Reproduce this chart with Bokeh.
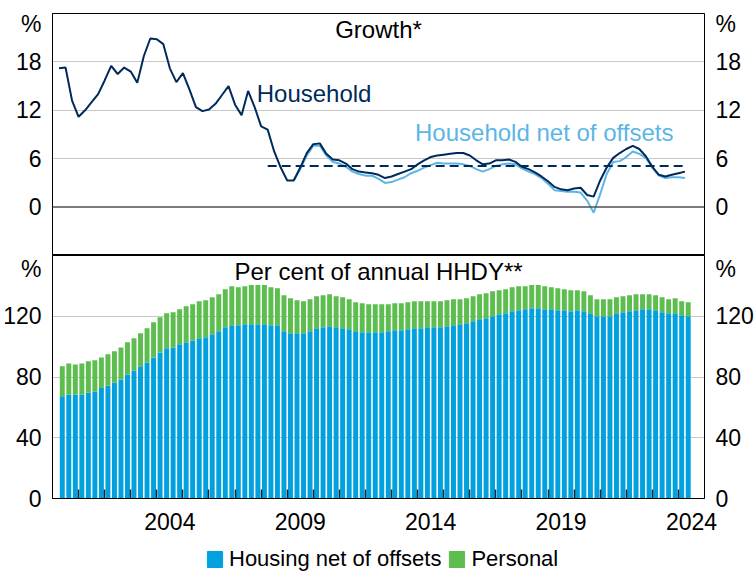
from bokeh.plotting import figure
from bokeh.models import (Range1d, LinearAxis, FixedTicker, Span, Label,
                          Legend, LegendItem, ColumnDataSource)
from bokeh.layouts import column
from bokeh.embed import file_html
from bokeh.resources import INLINE

# ---------------- data ----------------
# Growth panel: quarterly observations, first point Mar-2000, last Jun-2024
growth_start = 2000.25
household_growth = [
    17.2, 17.3, 13.2, 11.2, 12.0, 13.0, 14.0, 15.7, 17.5, 16.5,
    17.3, 16.8, 15.4, 18.7, 20.9, 20.8, 20.2, 17.2, 15.5, 16.6,
    14.6, 12.4, 11.9, 12.1, 12.8, 13.9, 15.0, 12.7, 11.4, 14.4,
    12.4, 10.0, 9.6, 6.9, 4.9, 3.3, 3.3, 4.9, 6.7, 7.8,
    7.9, 6.6, 5.9, 5.8, 5.4, 4.7, 4.4, 4.3, 4.2, 4.0,
    3.6, 3.8, 4.1, 4.4, 4.7, 5.3, 5.8, 6.2, 6.4, 6.5,
    6.6, 6.7, 6.7, 6.4, 5.8, 5.3, 5.4, 5.8, 5.8, 5.9,
    5.6, 5.0, 4.7, 4.3, 3.8, 3.2, 2.5, 2.2, 2.1, 2.3,
    2.4, 1.5, 1.3, 3.3, 4.9, 6.1, 6.7, 7.2, 7.6, 7.2,
    6.3, 5.0, 4.0, 3.8, 4.0, 4.2, 4.4,
]
# Household net of offsets starts in Mar-2009
net_start = 2009.25
household_net_growth = [
    3.3, 4.7, 6.4, 7.6, 7.6, 6.4, 5.6, 5.4, 5.0, 4.4,
    4.1, 3.9, 3.9, 3.5, 3.0, 3.1, 3.4, 3.7, 4.2, 4.5,
    4.9, 5.2, 5.5, 5.4, 5.4, 5.4, 5.3, 5.1, 4.7, 4.4,
    4.7, 5.1, 5.3, 5.4, 5.3, 4.8, 4.4, 4.1, 3.6, 2.9,
    2.1, 2.0, 1.9, 1.9, 1.8, 0.8, -0.7, 1.6, 4.1, 5.6,
    5.7, 6.2, 6.9, 6.6, 6.1, 4.9, 3.9, 3.6, 3.7, 3.7, 3.6,
]
avg_start, avg_end, avg_value = 2008.25, 2024.25, 5.1

# Per cent of annual HHDY: quarterly bars, June quarter 2000 to June quarter 2024
bar_start = 2000.375
housing = [
    67.4, 68.5, 68.5, 68.5, 69.8, 70.5, 72.7, 74.4, 76.4, 78.4,
    81.7, 84.3, 87.0, 89.6, 92.9, 96.2, 98.9, 99.5, 101.5, 102.8,
    104.1, 105.5, 106.1, 108.1, 110.1, 112.7, 114.0, 114.0, 114.7, 114.7,
    114.7, 114.7, 114.0, 114.0, 110.1, 108.8, 108.8, 108.8, 110.1, 112.1,
    112.7, 113.4, 112.7, 112.1, 111.4, 110.1, 109.4, 109.4, 109.4, 109.4,
    110.1, 110.7, 110.7, 111.4, 112.1, 112.1, 112.7, 112.7, 112.7, 113.4,
    114.0, 114.7, 115.4, 116.7, 118.0, 118.7, 120.0, 121.3, 122.0, 123.3,
    124.0, 124.6, 125.3, 125.3, 124.6, 124.6, 124.0, 124.0, 123.3, 124.0,
    123.3, 122.0, 120.0, 120.0, 120.0, 122.0, 122.6, 123.3, 124.0, 124.6,
    124.6, 124.0, 122.6, 122.0, 122.0, 120.7, 120.0,
]
personal = [
    19.6, 20.4, 19.8, 20.4, 20.5, 20.6, 20.2, 20.5, 20.5, 21.1,
    21.1, 21.2, 21.8, 22.5, 23.1, 23.1, 23.1, 23.1, 23.1, 23.8,
    23.8, 24.4, 24.5, 24.4, 24.4, 25.1, 25.8, 25.1, 25.1, 25.8,
    25.8, 25.8, 25.1, 24.5, 23.8, 23.1, 21.8, 21.1, 21.1, 21.1,
    21.2, 21.1, 20.5, 20.4, 19.8, 19.1, 19.2, 18.5, 18.5, 18.5,
    17.8, 17.9, 17.9, 17.8, 17.8, 17.8, 17.2, 17.2, 17.2, 17.2,
    17.2, 16.5, 16.5, 16.5, 16.5, 16.5, 16.5, 15.9, 15.8, 15.8,
    15.8, 15.2, 15.2, 15.2, 15.2, 14.5, 14.5, 13.8, 13.9, 13.2,
    13.2, 11.9, 11.2, 11.2, 11.2, 10.5, 10.6, 10.6, 10.5, 9.9,
    9.9, 9.9, 9.9, 9.2, 9.9, 9.2, 9.2,
]

year_labels = ["2004", "2009", "2014", "2019", "2024"]
growth_ticks = [0, 6, 12, 18]
hhdy_ticks = [0, 40, 80, 120]

# ---------------- style ----------------
FONT = "Liberation Sans"
NAVY = "#002A5C"
LIGHT = "#5BB6E6"
BLUE = "#00A1DE"
GREEN = "#5DBE4F"
GRID = "#C8C8C8"
TICK_SIZE = "23px"

W = 756
LEFT, RIGHT = 51, 45

x_g = [growth_start + 0.25 * i for i in range(len(household_growth))]
x_n = [net_start + 0.25 * i for i in range(len(household_net_growth))]
x_b = [bar_start + 0.25 * i for i in range(len(housing))]

x_range = Range1d(2000, 2025)


def style_y(ax, ticks, pct_pos):
    ax.ticker = FixedTicker(ticks=ticks + [pct_pos])
    ax.major_label_overrides = {pct_pos: "%"}
    ax.major_tick_line_color = None
    ax.minor_tick_line_color = None
    ax.axis_line_color = "black"
    ax.axis_line_width = 1
    ax.major_label_text_font = FONT
    ax.major_label_text_font_size = TICK_SIZE
    ax.major_label_text_color = "black"
    ax.major_label_standoff = 5


def note(p, x, y, text, color="black", size="24px", align="left",
         baseline="alphabetic", **kw):
    p.add_layout(Label(x=x, y=y, text=text, text_align=align,
                       text_baseline=baseline, text_font=FONT,
                       text_font_size=size, text_color=color, **kw))


# ---------------- top panel ----------------
p1 = figure(width=W, height=255, x_range=x_range, y_range=Range1d(-6, 24),
            output_backend="svg", toolbar_location=None,
            x_axis_location=None,
            min_border_left=LEFT, min_border_right=RIGHT,
            min_border_top=13, min_border_bottom=0)
p1.outline_line_color = "black"
p1.outline_line_width = 1
p1.xgrid.visible = False
p1.ygrid.ticker = FixedTicker(ticks=growth_ticks[1:])
p1.ygrid.grid_line_color = GRID
p1.ygrid.grid_line_width = 1
style_y(p1.yaxis[0], growth_ticks, 22.7)
r_ax1 = LinearAxis()
style_y(r_ax1, growth_ticks, 22.7)
p1.add_layout(r_ax1, "right")

p1.add_layout(Span(location=0, dimension="width", line_color="#505050",
                   line_width=1.5))

p1.line(x_n, household_net_growth, line_color=LIGHT, line_width=2)
p1.line(x_g, household_growth, line_color=NAVY, line_width=2)
p1.line([avg_start, avg_end], [avg_value, avg_value], line_color=NAVY,
        line_width=2, line_dash="9 5")

# chart title: only its lower part shows above the frame, as in the original
note(p1, 2012.45, 25.57, "Household Credit", size="34px", align="center",
     text_font_style="bold")
note(p1, 2012.5, 22.04, "Growth*", align="center")
note(p1, 2007.83, 14.07, "Household", color=NAVY)
note(p1, 2013.9, 9.24, "Household net of offsets", color=LIGHT)

# ---------------- bottom panel ----------------
p2 = figure(width=W, height=283, x_range=x_range, y_range=Range1d(0, 160),
            output_backend="svg", toolbar_location=None,
            min_border_left=LEFT, min_border_right=RIGHT,
            min_border_top=0, min_border_bottom=40)
p2.outline_line_color = "black"
p2.outline_line_width = 1
p2.xgrid.visible = False
p2.ygrid.ticker = FixedTicker(ticks=hhdy_ticks[1:])
p2.ygrid.grid_line_color = GRID
p2.ygrid.grid_line_width = 1
style_y(p2.yaxis[0], hhdy_ticks, 153)
r_ax2 = LinearAxis()
style_y(r_ax2, hhdy_ticks, 153)
p2.add_layout(r_ax2, "right")

src = ColumnDataSource(dict(x=x_b, housing=housing, personal=personal))
bars = p2.vbar_stack(["housing", "personal"], x="x", width=0.19,
                     color=[BLUE, GREEN], line_color=None, source=src)

xa = p2.xaxis[0]
label_pos = [int(y) + 0.5 for y in year_labels]
xa.ticker = FixedTicker(ticks=label_pos, minor_ticks=list(range(2001, 2025)))
xa.major_label_overrides = {pos: lab for pos, lab in zip(label_pos, year_labels)}
xa.major_tick_line_color = None
xa.minor_tick_in = 9
xa.minor_tick_out = 0
xa.minor_tick_line_color = "#222222"
xa.minor_tick_line_width = 1.5
xa.axis_line_color = "black"
xa.axis_line_width = 1
xa.major_label_text_font = FONT
xa.major_label_text_font_size = TICK_SIZE
xa.major_label_text_color = "black"
xa.major_label_standoff = 8

note(p2, 2012.5, 149.4, "Per cent of annual HHDY**", align="center")

# ---------------- legend strip ----------------
p3 = figure(width=W, height=34, output_backend="svg", toolbar_location=None,
            x_axis_location=None, y_axis_location=None, min_border=0,
            outline_line_color=None)
p3.xgrid.visible = False
p3.ygrid.visible = False
# legend keys only (no visible marks)
keys = ColumnDataSource(dict(x=[float("nan")], top=[float("nan")]))
key_h = p3.vbar(x="x", top="top", width=1, color=BLUE, source=keys)
key_p = p3.vbar(x="x", top="top", width=1, color=GREEN, source=keys)
legend = Legend(items=[LegendItem(label="Housing net of offsets", renderers=[key_h]),
                       LegendItem(label="Personal", renderers=[key_p])],
                orientation="horizontal", location=(153, 0),
                glyph_width=19, glyph_height=20, label_height=20,
                label_standoff=5, spacing=6, padding=0, margin=0,
                border_line_color=None, background_fill_alpha=0,
                label_text_font=FONT, label_text_font_size="22px",
                label_text_color="black")
p3.add_layout(legend)

layout = column(p1, p2, p3)
open("out.html", "w").write(file_html(layout, INLINE))
